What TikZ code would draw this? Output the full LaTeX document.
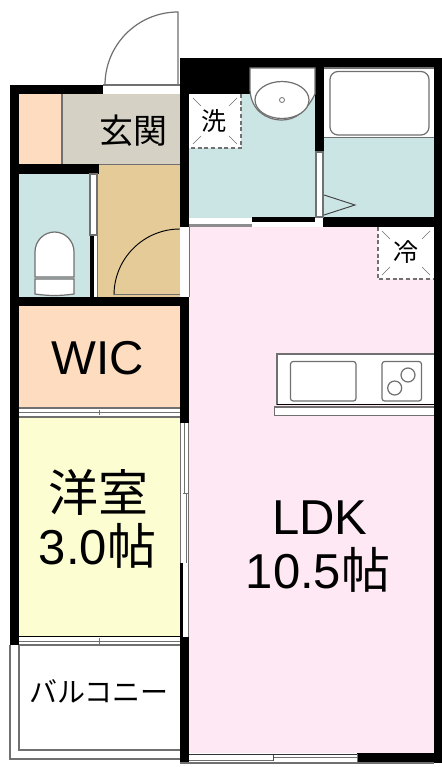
\documentclass[tikz,border=0pt]{standalone}
\usepackage{fontspec}
\setmainfont{Liberation Sans}
\newfontfamily\cjk{Noto Sans CJK JP}
\definecolor{teal}{HTML}{CBE4E4}
\definecolor{peach}{HTML}{FDDCC0}
\definecolor{beige}{HTML}{D5D2C5}
\definecolor{tan}{HTML}{E4CB97}
\definecolor{pink}{HTML}{FEE8F4}
\definecolor{cream}{HTML}{FDFDD2}
\definecolor{gline}{HTML}{707070}
\tikzset{
  wall/.style={fill=black,draw=none},
  thin gray/.style={draw=gline,line width=0.9pt},
  fixture/.style={draw=gline,line width=0.9pt,fill=white},
  dashline/.style={draw=gline,line width=0.9pt,dash pattern=on 3pt off 2pt},
  tick/.style={draw=gline,line width=0.5pt},
  lbl/.style={inner sep=0pt,text=black}
}
\newcommand{\px}[1]{\pgfmathsetmacro\fsz{#1*0.75}\fontsize{\fsz}{\fsz}\selectfont}
\begin{document}
\begin{tikzpicture}[x=0.75pt,y=-0.75pt]
\useasboundingbox (0,0) rectangle (442,767);
\fill[white] (0,0) rectangle (442,767);
% room floors
\fill[peach] (19,94) rectangle (62,165);
\fill[beige] (62,94) rectangle (180,165);
\fill[teal] (19,174) rectangle (90,297);
\fill[tan] (98,165) rectangle (180,297);
\fill[peach] (19,306) rectangle (180,408);
\fill[cream] (19,417) rectangle (180,637);
\fill[teal] (189,94) rectangle (315,218);
\fill[teal] (324,137) rectangle (434,217);
\fill[pink] (189,227) rectangle (434,753);
\draw[draw=gline,line width=0.8pt] (62,94) -- (62,164);
\draw[draw=gline,line width=0.9pt] (19,164.5) -- (180,164.5);
% entrance door
\draw[thin gray] (105,85) arc[start angle=180,end angle=270,radius=73] -- (178,85);
\draw[thin gray] (103,85) -- (180,85);
% walls
\fill[wall] (10,85) rectangle (103,94);
\fill[wall] (10,85) rectangle (19,645);
\fill[wall] (10,164) rectangle (99,174);
\fill[wall] (10,297) rectangle (189,306);
\fill[wall] (180,58) rectangle (189,227);
\fill[wall] (180,58) rectangle (442,68);
\fill[wall] (180,58) rectangle (250,94);
\fill[wall] (315,58) rectangle (324,152);
\fill[wall] (323,217) rectangle (442,227);
\fill[wall] (434,58) rectangle (442,763);
\fill[wall] (357,753) rectangle (442,763);
\fill[wall] (180,306) rectangle (189,423);
\fill[wall] (180,563) rectangle (183,637);
\fill[wall] (180,637) rectangle (189,763);
\fill[wall] (90,235) rectangle (94,297);
\fill[wall] (252,217) rectangle (315,222);
% toilet partition
\draw[thin gray,fill=white] (90,174) rectangle (97,235);
\draw[draw=gline,line width=0.6pt] (97.5,235) -- (97.5,297);
% toilet
\draw[fixture] (35,277) -- (35,252) arc[start angle=180,end angle=360,x radius=19.5,y radius=20] -- (74,277) -- cycle;
\draw[fixture] (35,279) -- (74,279) -- (74,294) .. controls (60,296) and (49,296) .. (35,294) -- cycle;
% hall door
\draw[draw=black,line width=0.7pt] (114,295) arc[start angle=180,end angle=270,radius=66];
\draw[draw=gline,line width=0.9pt] (114,294.5) -- (180,294.5);
\draw[draw=gline,line width=0.6pt] (180,229) -- (180,297);
% washing machine place
\fill[white] (189,94) rectangle (241,148);
\draw[dashline] (241,94) -- (241,148) -- (189,148);
\draw[tick] (193,98) -- (201,106) (237,98) -- (229,106) (193,144) -- (201,136) (237,144) -- (229,136);
% basin
\draw[fixture] (250,68) -- (315,68) -- (315,94) .. controls (306,112) and (295,120) .. (282,120) .. controls (266,120) and (251,110) .. (250,90) -- cycle;
\draw[fixture] (282,100) ellipse [x radius=27,y radius=18.5];
\draw[draw=gline,line width=0.6pt] (282,100) circle [radius=2.5];
% bath
\fill[white] (324,68) rectangle (434,137);
\draw[thin gray] (324,137.5) -- (434,137.5);
\draw[thin gray] (324,68) -- (434,68);
\draw[fixture,rounded corners=6pt] (330,71.5) rectangle (429,135);
\draw[fixture] (316,152) rectangle (323,217);
\draw[draw=black!75,line width=0.7pt] (324,195) -- (355,205) -- (324,215);
% LDK top doors
\fill[white] (189,218) rectangle (252,224);
\fill[gline!80] (189,224) rectangle (252,226.5);
\fill[white] (253,222) rectangle (315,226);
% fridge place
\fill[white] (378,227) rectangle (434,279);
\draw[dashline] (378,227) -- (378,279) -- (434,279);
\draw[tick] (382,231) -- (390,239) (430,231) -- (422,239) (382,275) -- (390,267) (430,275) -- (422,267);
% LDK left opening
\fill[white] (180,227) rectangle (189,297);
\draw[draw=gline,line width=0.6pt] (189,227) -- (189,297);
% kitchen
\draw[fixture] (434,354) -- (277,354) -- (277,404.5) -- (434,404.5);
\draw[draw=black,line width=0.8pt] (277,404.5) -- (434,404.5);
\draw[fixture] (434,407) -- (274.5,407) -- (274.5,415.5) -- (434,415.5);
\draw[fixture,rounded corners=2pt] (290.5,361.5) rectangle (356,401);
\draw[fixture,rounded corners=2pt] (382,361.5) rectangle (421.5,401);
\draw[draw=gline,line width=0.9pt] (394.7,388) circle [radius=7] (408,375) circle [radius=7];
% WIC sliding door
\fill[white] (19,408) rectangle (180,417);
\draw[thin gray] (19,408) -- (180,408);
\draw[thin gray] (19,417) -- (180,417);
\draw[draw=gline,line width=0.6pt] (19,412.5) -- (180,412.5);
\draw[draw=gline,line width=0.6pt] (99,410) -- (99,415);
% room window on right of western room
\fill[white] (180,423) rectangle (189,563);
\fill[white] (183,563) rectangle (189,637);
\draw[draw=gline,line width=0.7pt] (180.5,423) -- (180.5,563);
\draw[draw=gline,line width=0.7pt] (184.5,423) -- (184.5,493);
\draw[draw=gline,line width=0.7pt] (186,493) -- (186,563);
\draw[draw=gline,line width=0.7pt] (188.5,423) -- (188.5,637);
\draw[draw=gline,line width=0.5pt] (183,493) -- (189,493);
% balcony
\fill[white] (19,637) rectangle (180,645);
\draw[draw=black,line width=0.8pt] (19,636.5) -- (180,636.5);
\draw[thin gray] (19,645) -- (180,645);
\draw[draw=gline,line width=0.6pt] (19,641) -- (180,641);
\draw[draw=gline,line width=0.6pt] (99,638) -- (99,644);
\draw[thin gray] (10,645) -- (10,759) -- (180,759);
\draw[thin gray] (19,645) -- (19,750) -- (180,750);
% bottom window
\fill[white] (189,753) rectangle (357,763);
\draw[draw=black!80,line width=0.7pt] (189,754) -- (357,754);
\draw[draw=gline,line width=0.9pt] (189,763) -- (357,763);
\draw[draw=gline,line width=0.7pt] (189,760) -- (273,760);
\draw[draw=gline,line width=0.7pt] (273,757.5) -- (357,757.5);
\draw[draw=black!70,line width=0.5pt] (273,755) -- (273,761);
\draw[draw=gline,line width=0.7pt] (357,754) -- (357,763);
\draw[draw=gline,line width=0.9pt] (180,763) -- (434,763);
% labels
\node[lbl] (genkan) at (133.5,131) {\cjk\px{34}玄関};
\node[lbl] (sen) at (214,121) {\cjk\px{25}洗};
\node[lbl] (rei) at (406,252) {\cjk\px{25}冷};
\node[lbl] (wic) at (97.5,358) {\px{47.5}WIC};
\node[lbl] (yoshitsu) at (98,492) {\cjk\px{50}洋室};
\node[lbl] (yoarea) at (97.5,546) {\px{49}3.0{\cjk 帖}};
\node[lbl] (ldk) at (320,518) {\px{49}LDK};
\node[lbl] (ldkarea) at (318,570) {\px{49}10.5{\cjk 帖}};
\node[lbl] (balcony) at (99,691) {\cjk\px{28}バルコニー};
\end{tikzpicture}
\end{document}
